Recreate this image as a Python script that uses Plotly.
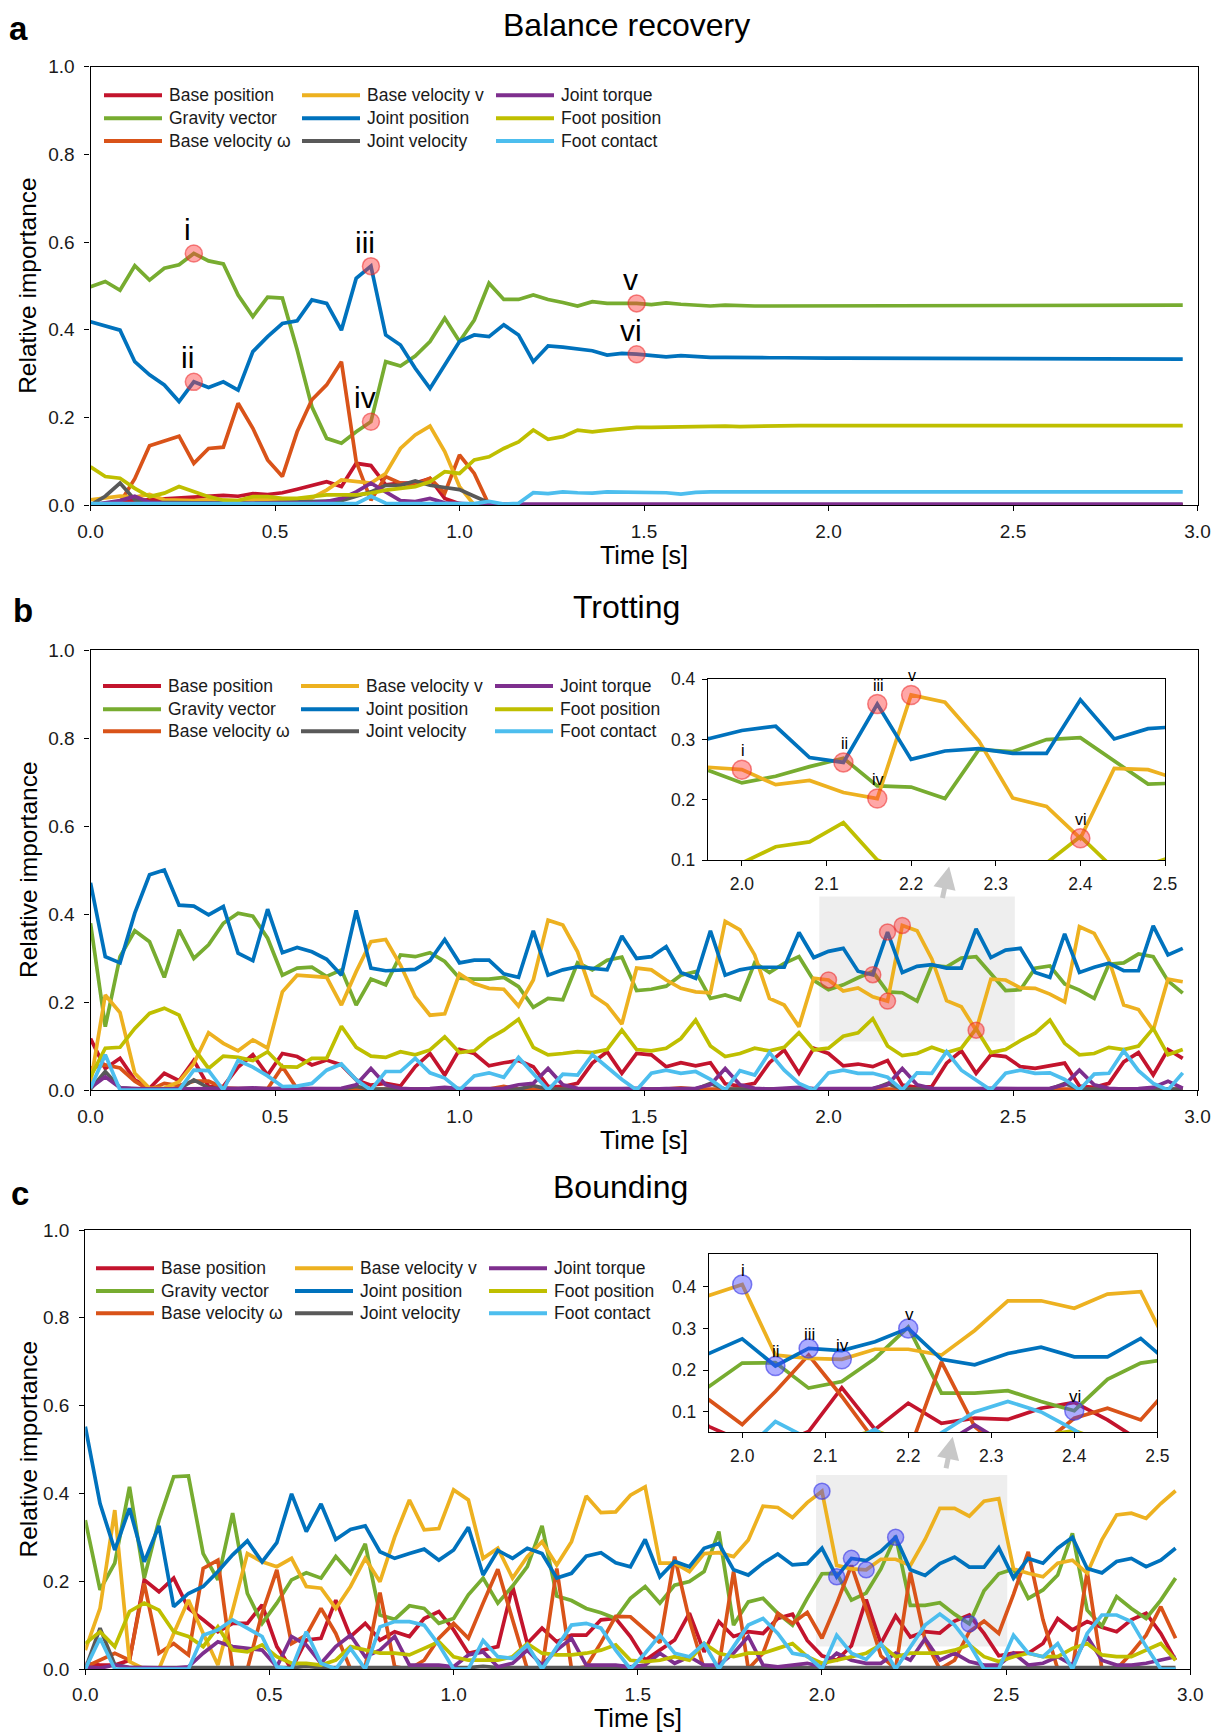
import numpy as np
import plotly.graph_objects as go

# The page body adds an 8 px margin, so the figure is drawn 8 px smaller and
# all pixel positions below are given in page coordinates minus that offset.
PAGE_W, PAGE_H = 1221, 1734
OFF = 8
W, H = PAGE_W - OFF, PAGE_H - OFF
FONT = "Liberation Sans, Arial, Helvetica, sans-serif"

# ---------------- time grid ----------------
N_STEPS = 75
DT = 0.04
t = np.round(np.arange(N_STEPS) * DT, 2)

SERIES = ["Base position", "Gravity vector", "Base velocity \u03c9",
          "Base velocity v", "Joint position", "Joint velocity",
          "Joint torque", "Foot position", "Foot contact"]
COLORS = ["#C3142D", "#77AC30", "#D95319", "#EDB120", "#0072BD",
          "#595959", "#7E2F8E", "#BFBF00", "#4DBEEE"]

# ---------------- panel a : Balance recovery ----------------
A_BPOS = [0.0, 0.005, 0.008, 0.01, 0.012, 0.015, 0.018, 0.02, 0.02, 0.022,
          0.02, 0.026, 0.024, 0.028, 0.036, 0.045, 0.053, 0.042, 0.095, 0.09,
          0.046, 0.05, 0.05, 0.06, 0.015, 0.003, 0.0, 0.0, 0.0, 0.0,
          0.0, 0.0, 0.0, 0.0, 0.0, 0.0, 0.0, 0.0, 0.0, 0.0,
          0.0, 0.0, 0.0, 0.0, 0.0, 0.0, 0.0, 0.0, 0.0, 0.0,
          0.0, 0.0, 0.0, 0.0, 0.0, 0.0, 0.0, 0.0, 0.0, 0.0,
          0.0, 0.0, 0.0, 0.0, 0.0, 0.0, 0.0, 0.0, 0.0, 0.0,
          0.0, 0.0, 0.0, 0.0, 0.0]
A_GRAV = [0.498, 0.51, 0.49, 0.546, 0.513, 0.54, 0.548, 0.574, 0.557, 0.55,
          0.479, 0.43, 0.474, 0.472, 0.354, 0.224, 0.152, 0.141, 0.167, 0.19,
          0.327, 0.317, 0.34, 0.373, 0.426, 0.373, 0.422, 0.506, 0.469, 0.469,
          0.479, 0.469, 0.462, 0.454, 0.464, 0.46, 0.46, 0.46, 0.457, 0.461,
          0.458, 0.455, 0.454, 0.456, 0.454, 0.454, 0.454, 0.454, 0.454, 0.454,
          0.454, 0.454, 0.454, 0.454, 0.454, 0.454, 0.454, 0.454, 0.454, 0.454,
          0.454, 0.454, 0.454, 0.456, 0.456, 0.456, 0.456, 0.456, 0.456, 0.456,
          0.456, 0.456, 0.456, 0.456, 0.456]
A_BVW = [0.0, 0.0, 0.005, 0.06, 0.135, 0.145, 0.157, 0.095, 0.129, 0.132,
         0.232, 0.175, 0.103, 0.065, 0.167, 0.24, 0.274, 0.327, 0.099, 0.011,
         0.065, 0.05, 0.046, 0.061, 0.027, 0.114, 0.072, 0.0, 0.0, 0.0,
         0.0, 0.0, 0.0, 0.0, 0.0, 0.0, 0.0, 0.0, 0.0, 0.0,
         0.0, 0.0, 0.0, 0.0, 0.0, 0.0, 0.0, 0.0, 0.0, 0.0,
         0.0, 0.0, 0.0, 0.0, 0.0, 0.0, 0.0, 0.0, 0.0, 0.0,
         0.0, 0.0, 0.0, 0.0, 0.0, 0.0, 0.0, 0.0, 0.0, 0.0,
         0.0, 0.0, 0.0, 0.0, 0.0]
A_BVV = [0.012, 0.015, 0.02, 0.018, 0.024, 0.012, 0.01, 0.01, 0.012, 0.01,
         0.01, 0.012, 0.012, 0.014, 0.014, 0.016, 0.034, 0.057, 0.053, 0.05,
         0.072, 0.129, 0.16, 0.18, 0.122, 0.042, 0.0, 0.0, 0.0, 0.0,
         0.0, 0.0, 0.0, 0.0, 0.0, 0.0, 0.0, 0.0, 0.0, 0.0,
         0.0, 0.0, 0.0, 0.0, 0.0, 0.0, 0.0, 0.0, 0.0, 0.0,
         0.0, 0.0, 0.0, 0.0, 0.0, 0.0, 0.0, 0.0, 0.0, 0.0,
         0.0, 0.0, 0.0, 0.0, 0.0, 0.0, 0.0, 0.0, 0.0, 0.0,
         0.0, 0.0, 0.0, 0.0, 0.0]
A_JPOS = [0.418, 0.408, 0.399, 0.327, 0.297, 0.274, 0.236, 0.281, 0.268, 0.281,
          0.262, 0.35, 0.384, 0.414, 0.42, 0.468, 0.46, 0.399, 0.517, 0.545,
          0.388, 0.365, 0.312, 0.266, 0.319, 0.373, 0.388, 0.384, 0.411, 0.388,
          0.327, 0.363, 0.36, 0.357, 0.352, 0.342, 0.346, 0.344, 0.342, 0.338,
          0.341, 0.338, 0.337, 0.337, 0.336, 0.336, 0.336, 0.336, 0.335, 0.335,
          0.335, 0.335, 0.335, 0.335, 0.335, 0.335, 0.335, 0.335, 0.335, 0.335,
          0.335, 0.335, 0.335, 0.333, 0.333, 0.333, 0.333, 0.333, 0.333, 0.333,
          0.333, 0.333, 0.333, 0.333, 0.333]
A_JVEL = [0.0, 0.02, 0.05, 0.012, 0.006, 0.005, 0.005, 0.005, 0.005, 0.004,
          0.004, 0.004, 0.005, 0.006, 0.006, 0.007, 0.008, 0.01, 0.02, 0.03,
          0.045, 0.045, 0.055, 0.045, 0.04, 0.035, 0.02, 0.005, 0.0, 0.0,
          0.0, 0.0, 0.0, 0.0, 0.0, 0.0, 0.0, 0.0, 0.0, 0.0,
          0.0, 0.0, 0.0, 0.0, 0.0, 0.0, 0.0, 0.0, 0.0, 0.0,
          0.0, 0.0, 0.0, 0.0, 0.0, 0.0, 0.0, 0.0, 0.0, 0.0,
          0.0, 0.0, 0.0, 0.0, 0.0, 0.0, 0.0, 0.0, 0.0, 0.0,
          0.0, 0.0, 0.0, 0.0, 0.0]
A_JTOR = [0.0, 0.004, 0.01, 0.02, 0.006, 0.004, 0.003, 0.003, 0.003, 0.003,
          0.003, 0.003, 0.003, 0.003, 0.004, 0.005, 0.008, 0.015, 0.03, 0.05,
          0.03, 0.01, 0.008, 0.015, 0.005, 0.003, 0.002, 0.002, 0.002, 0.002,
          0.002, 0.002, 0.002, 0.002, 0.002, 0.002, 0.002, 0.002, 0.002, 0.002,
          0.002, 0.002, 0.002, 0.002, 0.002, 0.002, 0.002, 0.002, 0.002, 0.002,
          0.002, 0.002, 0.002, 0.002, 0.002, 0.002, 0.002, 0.002, 0.002, 0.002,
          0.002, 0.002, 0.002, 0.002, 0.002, 0.002, 0.002, 0.002, 0.002, 0.002,
          0.002, 0.002, 0.002, 0.002, 0.002]
A_FPOS = [0.087, 0.065, 0.061, 0.038, 0.019, 0.027, 0.042, 0.03, 0.019, 0.011,
          0.01, 0.019, 0.019, 0.015, 0.015, 0.019, 0.023, 0.023, 0.023, 0.027,
          0.034, 0.038, 0.042, 0.053, 0.076, 0.072, 0.103, 0.11, 0.129, 0.144,
          0.171, 0.15, 0.156, 0.171, 0.167, 0.171, 0.175, 0.177, 0.177, 0.178,
          0.178, 0.179, 0.18, 0.18, 0.179, 0.18, 0.18, 0.18, 0.181, 0.181,
          0.181, 0.181, 0.181, 0.181, 0.181, 0.181, 0.181, 0.181, 0.181, 0.181,
          0.181, 0.181, 0.181, 0.181, 0.181, 0.181, 0.181, 0.181, 0.181, 0.181,
          0.181, 0.181, 0.181, 0.181, 0.181]
A_FCON = [0.003, 0.003, 0.003, 0.003, 0.003, 0.003, 0.003, 0.003, 0.003, 0.003,
          0.003, 0.003, 0.003, 0.003, 0.003, 0.003, 0.003, 0.003, 0.003, 0.02,
          0.004, 0.003, 0.003, 0.003, 0.003, 0.003, 0.003, 0.008, 0.002, 0.004,
          0.028, 0.026, 0.03, 0.028, 0.027, 0.03, 0.03, 0.03, 0.029, 0.028,
          0.025, 0.029, 0.03, 0.03, 0.03, 0.03, 0.03, 0.03, 0.03, 0.03,
          0.03, 0.03, 0.03, 0.03, 0.03, 0.03, 0.03, 0.03, 0.03, 0.03,
          0.03, 0.03, 0.03, 0.03, 0.03, 0.03, 0.03, 0.03, 0.03, 0.03,
          0.03, 0.03, 0.03, 0.03, 0.03]

# ---------------- panel b : Trotting ----------------
B_BPOS = [0.117, 0.049, 0.072, 0.023, 0.004, 0.038, 0.021, 0.067, 0.008, 0.008,
          0.052, 0.08, 0.034, 0.083, 0.076, 0.057, 0.068, 0.057, 0.023, 0.011,
          0.015, 0.009, 0.053, 0.083, 0.034, 0.092, 0.083, 0.055, 0.062, 0.067,
          0.053, 0.008, 0.008, 0.015, 0.061, 0.087, 0.038, 0.083, 0.08, 0.053,
          0.062, 0.055, 0.062, 0.014, 0.009, 0.015, 0.062, 0.091, 0.038, 0.095,
          0.083, 0.055, 0.059, 0.053, 0.067, 0.011, 0.006, 0.008, 0.061, 0.089,
          0.038, 0.08, 0.076, 0.053, 0.049, 0.055, 0.061, 0.009, 0.006, 0.015,
          0.064, 0.085, 0.034, 0.092, 0.072]
B_GRAV = [0.379, 0.144, 0.303, 0.362, 0.337, 0.256, 0.364, 0.299, 0.33, 0.379,
          0.402, 0.395, 0.345, 0.261, 0.277, 0.279, 0.258, 0.273, 0.193, 0.252,
          0.239, 0.307, 0.303, 0.312, 0.292, 0.254, 0.252, 0.252, 0.256, 0.235,
          0.188, 0.208, 0.205, 0.289, 0.273, 0.295, 0.302, 0.226, 0.229, 0.236,
          0.261, 0.269, 0.208, 0.216, 0.205, 0.289, 0.267, 0.288, 0.303, 0.249,
          0.228, 0.239, 0.255, 0.269, 0.223, 0.221, 0.202, 0.283, 0.28, 0.3,
          0.303, 0.265, 0.226, 0.228, 0.277, 0.282, 0.241, 0.227, 0.208, 0.286,
          0.289, 0.309, 0.303, 0.248, 0.22]
B_BVW = [0.05, 0.057, 0.05, 0.02, 0.0, 0.015, 0.01, 0.02, 0.02, 0.005,
         0.003, 0.003, 0.003, 0.053, 0.003, 0.002, 0.002, 0.002, 0.002, 0.002,
         0.002, 0.002, 0.002, 0.002, 0.002, 0.002, 0.002, 0.002, 0.008, 0.002,
         0.002, 0.002, 0.002, 0.002, 0.002, 0.002, 0.002, 0.002, 0.002, 0.002,
         0.005, 0.002, 0.002, 0.002, 0.002, 0.002, 0.002, 0.002, 0.002, 0.002,
         0.002, 0.002, 0.002, 0.002, 0.002, 0.002, 0.002, 0.002, 0.002, 0.002,
         0.002, 0.002, 0.002, 0.002, 0.002, 0.002, 0.002, 0.002, 0.002, 0.002,
         0.002, 0.002, 0.002, 0.002, 0.002]
B_BVV = [0.015, 0.216, 0.176, 0.038, 0.004, 0.004, 0.019, 0.06, 0.13, 0.106,
         0.089, 0.114, 0.095, 0.223, 0.261, 0.259, 0.256, 0.193, 0.269, 0.337,
         0.342, 0.284, 0.212, 0.17, 0.173, 0.264, 0.242, 0.231, 0.229, 0.191,
         0.25, 0.386, 0.375, 0.314, 0.216, 0.193, 0.15, 0.277, 0.273, 0.25,
         0.231, 0.223, 0.221, 0.383, 0.364, 0.307, 0.208, 0.193, 0.144, 0.254,
         0.25, 0.225, 0.232, 0.212, 0.202, 0.374, 0.362, 0.298, 0.203, 0.189,
         0.136, 0.252, 0.25, 0.232, 0.231, 0.218, 0.2, 0.371, 0.356, 0.295,
         0.193, 0.183, 0.136, 0.252, 0.246]
B_JPOS = [0.471, 0.303, 0.289, 0.402, 0.489, 0.5, 0.42, 0.418, 0.398, 0.417,
          0.311, 0.294, 0.411, 0.312, 0.324, 0.314, 0.297, 0.261, 0.408, 0.277,
          0.271, 0.273, 0.274, 0.294, 0.342, 0.289, 0.295, 0.295, 0.264, 0.256,
          0.362, 0.261, 0.273, 0.28, 0.277, 0.273, 0.35, 0.299, 0.303, 0.326,
          0.267, 0.254, 0.362, 0.261, 0.273, 0.279, 0.279, 0.279, 0.358, 0.301,
          0.315, 0.322, 0.27, 0.262, 0.359, 0.267, 0.281, 0.285, 0.277, 0.277,
          0.366, 0.301, 0.318, 0.322, 0.267, 0.256, 0.355, 0.267, 0.279, 0.288,
          0.271, 0.271, 0.373, 0.307, 0.322]
B_JVEL = [0.002, 0.042, 0.005, 0.002, 0.002, 0.002, 0.002, 0.023, 0.005, 0.002,
          0.002, 0.002, 0.002, 0.002, 0.002, 0.002, 0.002, 0.002, 0.008, 0.002,
          0.002, 0.002, 0.002, 0.002, 0.002, 0.002, 0.002, 0.002, 0.002, 0.002,
          0.01, 0.002, 0.002, 0.002, 0.002, 0.002, 0.002, 0.002, 0.002, 0.002,
          0.002, 0.002, 0.015, 0.002, 0.002, 0.002, 0.002, 0.002, 0.002, 0.002,
          0.002, 0.002, 0.002, 0.002, 0.015, 0.002, 0.002, 0.002, 0.002, 0.002,
          0.002, 0.002, 0.002, 0.002, 0.002, 0.002, 0.015, 0.002, 0.002, 0.002,
          0.002, 0.002, 0.002, 0.002, 0.002]
B_JTOR = [0.005, 0.03, 0.005, 0.003, 0.002, 0.002, 0.002, 0.004, 0.002, 0.003,
          0.004, 0.005, 0.003, 0.004, 0.003, 0.002, 0.003, 0.004, 0.012, 0.049,
          0.012, 0.004, 0.002, 0.003, 0.006, 0.003, 0.002, 0.003, 0.004, 0.012,
          0.015, 0.049, 0.012, 0.004, 0.003, 0.002, 0.003, 0.004, 0.002, 0.003,
          0.003, 0.004, 0.012, 0.049, 0.012, 0.004, 0.002, 0.003, 0.006, 0.003,
          0.002, 0.003, 0.003, 0.004, 0.012, 0.049, 0.012, 0.004, 0.003, 0.002,
          0.003, 0.004, 0.003, 0.002, 0.003, 0.004, 0.012, 0.045, 0.012, 0.004,
          0.002, 0.003, 0.006, 0.02, 0.004]
B_FPOS = [0.03, 0.095, 0.097, 0.14, 0.174, 0.186, 0.17, 0.095, 0.049, 0.077,
          0.074, 0.067, 0.087, 0.053, 0.052, 0.072, 0.072, 0.145, 0.097, 0.077,
          0.074, 0.087, 0.08, 0.091, 0.121, 0.085, 0.089, 0.117, 0.136, 0.161,
          0.097, 0.08, 0.083, 0.087, 0.085, 0.092, 0.136, 0.092, 0.089, 0.095,
          0.117, 0.159, 0.1, 0.076, 0.083, 0.095, 0.089, 0.097, 0.13, 0.091,
          0.095, 0.122, 0.13, 0.162, 0.1, 0.078, 0.083, 0.097, 0.085, 0.095,
          0.139, 0.085, 0.092, 0.112, 0.129, 0.159, 0.106, 0.08, 0.083, 0.097,
          0.092, 0.1, 0.14, 0.08, 0.092]
B_FCON = [0.004, 0.08, 0.0, 0.0, 0.0, 0.0, 0.0, 0.045, 0.044, 0.0,
          0.067, 0.052, 0.032, 0.008, 0.009, 0.015, 0.045, 0.059, 0.023, 0.0,
          0.042, 0.042, 0.072, 0.039, 0.027, 0.0, 0.032, 0.039, 0.029, 0.074,
          0.038, 0.0, 0.036, 0.034, 0.08, 0.053, 0.024, 0.0, 0.038, 0.045,
          0.038, 0.042, 0.024, 0.0, 0.044, 0.034, 0.085, 0.045, 0.015, 0.0,
          0.039, 0.045, 0.038, 0.038, 0.029, 0.0, 0.039, 0.038, 0.087, 0.045,
          0.023, 0.0, 0.038, 0.045, 0.038, 0.039, 0.024, 0.0, 0.036, 0.038,
          0.089, 0.044, 0.015, 0.0, 0.039]

# ---------------- panel c : Bounding ----------------
C_BPOS = [0.013, 0.009, 0.009, 0.02, 0.203, 0.176, 0.207, 0.138, 0.112, 0.085,
          0.104, 0.104, 0.146, 0.051, 0.0, 0.066, 0.07, 0.157, 0.074, 0.104,
          0.066, 0.085, 0.074, 0.115, 0.131, 0.089, 0.036, 0.043, 0.051, 0.188,
          0.058, 0.093, 0.062, 0.077, 0.077, 0.112, 0.115, 0.074, 0.02, 0.043,
          0.066, 0.127, 0.039, 0.108, 0.074, 0.085, 0.081, 0.115, 0.125, 0.065,
          0.03, 0.02, 0.053, 0.158, 0.058, 0.121, 0.073, 0.085, 0.082, 0.109,
          0.123, 0.081, 0.03, 0.036, 0.036, 0.058, 0.115, 0.089, 0.108, 0.095,
          0.085, 0.112, 0.127, 0.081, 0.02]
C_GRAV = [0.339, 0.18, 0.241, 0.415, 0.207, 0.339, 0.438, 0.44, 0.263, 0.203,
          0.355, 0.172, 0.104, 0.15, 0.203, 0.219, 0.207, 0.256, 0.218, 0.285,
          0.123, 0.113, 0.144, 0.138, 0.104, 0.115, 0.169, 0.207, 0.15, 0.189,
          0.233, 0.326, 0.166, 0.156, 0.138, 0.128, 0.115, 0.161, 0.188, 0.15,
          0.191, 0.199, 0.222, 0.313, 0.1, 0.153, 0.161, 0.127, 0.1, 0.161,
          0.217, 0.218, 0.157, 0.173, 0.228, 0.303, 0.145, 0.145, 0.151, 0.125,
          0.103, 0.178, 0.217, 0.228, 0.161, 0.18, 0.214, 0.309, 0.134, 0.098,
          0.165, 0.138, 0.115, 0.157, 0.207]
C_BVW = [0.005, 0.02, 0.036, 0.02, 0.195, 0.036, 0.058, 0.032, 0.229, 0.248,
         0.0, 0.0, 0.127, 0.226, 0.058, 0.077, 0.138, 0.081, 0.0, 0.005,
         0.174, 0.005, 0.0, 0.02, 0.07, 0.104, 0.07, 0.15, 0.227, 0.112,
         0.0, 0.0, 0.229, 0.0, 0.005, 0.06, 0.12, 0.119, 0.09, 0.06,
         0.256, 0.112, 0.0, 0.005, 0.222, 0.0, 0.036, 0.127, 0.104, 0.129,
         0.07, 0.149, 0.236, 0.137, 0.03, 0.0, 0.22, 0.065, 0.0, 0.02,
         0.085, 0.109, 0.081, 0.17, 0.267, 0.112, 0.0, 0.0, 0.222, 0.0,
         0.0, 0.036, 0.077, 0.142, 0.07]
C_BVV = [0.043, 0.138, 0.362, 0.017, 0.0, 0.0, 0.081, 0.157, 0.081, 0.009,
         0.134, 0.263, 0.244, 0.233, 0.252, 0.188, 0.184, 0.138, 0.188, 0.252,
         0.199, 0.301, 0.385, 0.317, 0.32, 0.408, 0.385, 0.252, 0.275, 0.207,
         0.256, 0.29, 0.237, 0.29, 0.394, 0.356, 0.358, 0.396, 0.415, 0.241,
         0.241, 0.222, 0.263, 0.265, 0.256, 0.294, 0.371, 0.368, 0.345, 0.379,
         0.405, 0.236, 0.228, 0.226, 0.25, 0.25, 0.236, 0.295, 0.366, 0.366,
         0.348, 0.382, 0.388, 0.228, 0.218, 0.21, 0.241, 0.248, 0.218, 0.294,
         0.351, 0.355, 0.343, 0.377, 0.406]
C_JPOS = [0.552, 0.377, 0.271, 0.366, 0.244, 0.326, 0.142, 0.172, 0.188, 0.222,
          0.26, 0.292, 0.244, 0.288, 0.399, 0.313, 0.376, 0.295, 0.318, 0.326,
          0.267, 0.252, 0.263, 0.273, 0.248, 0.271, 0.323, 0.214, 0.27, 0.252,
          0.275, 0.263, 0.207, 0.218, 0.257, 0.265, 0.242, 0.233, 0.295, 0.21,
          0.245, 0.233, 0.275, 0.286, 0.226, 0.214, 0.241, 0.262, 0.237, 0.24,
          0.275, 0.21, 0.252, 0.247, 0.268, 0.3, 0.226, 0.213, 0.24, 0.255,
          0.232, 0.232, 0.276, 0.207, 0.252, 0.241, 0.275, 0.3, 0.229, 0.219,
          0.245, 0.252, 0.233, 0.248, 0.275]
C_JVEL = [0.0, 0.093, 0.01, 0.003, 0.003, 0.002, 0.003, 0.003, 0.003, 0.003,
          0.003, 0.003, 0.003, 0.003, 0.003, 0.006, 0.003, 0.003, 0.003, 0.003,
          0.003, 0.003, 0.003, 0.003, 0.003, 0.003, 0.003, 0.006, 0.003, 0.003,
          0.003, 0.003, 0.003, 0.003, 0.003, 0.003, 0.003, 0.003, 0.003, 0.003,
          0.003, 0.003, 0.003, 0.003, 0.003, 0.003, 0.003, 0.003, 0.003, 0.003,
          0.003, 0.003, 0.003, 0.003, 0.003, 0.003, 0.003, 0.003, 0.003, 0.003,
          0.003, 0.003, 0.003, 0.003, 0.003, 0.003, 0.003, 0.003, 0.003, 0.003,
          0.003, 0.003, 0.003, 0.003, 0.003]
C_JTOR = [0.005, 0.002, 0.009, 0.003, 0.003, 0.002, 0.002, 0.005, 0.036, 0.062,
          0.051, 0.047, 0.043, 0.005, 0.074, 0.055, 0.013, 0.051, 0.077, 0.028,
          0.043, 0.074, 0.009, 0.009, 0.009, 0.005, 0.032, 0.039, 0.005, 0.013,
          0.043, 0.009, 0.043, 0.07, 0.009, 0.009, 0.009, 0.005, 0.009, 0.036,
          0.013, 0.028, 0.009, 0.009, 0.036, 0.074, 0.009, 0.005, 0.009, 0.013,
          0.005, 0.036, 0.02, 0.013, 0.013, 0.036, 0.02, 0.069, 0.02, 0.036,
          0.017, 0.009, 0.009, 0.036, 0.009, 0.013, 0.028, 0.009, 0.074, 0.02,
          0.009, 0.009, 0.013, 0.02, 0.028]
C_FPOS = [0.058, 0.085, 0.051, 0.131, 0.15, 0.134, 0.085, 0.074, 0.051, 0.096,
          0.043, 0.039, 0.055, 0.028, 0.013, 0.013, 0.009, 0.02, 0.051, 0.043,
          0.036, 0.036, 0.032, 0.047, 0.062, 0.028, 0.02, 0.02, 0.02, 0.028,
          0.058, 0.036, 0.032, 0.032, 0.036, 0.043, 0.055, 0.02, 0.017, 0.02,
          0.028, 0.02, 0.058, 0.036, 0.028, 0.036, 0.036, 0.047, 0.058, 0.028,
          0.013, 0.02, 0.028, 0.036, 0.055, 0.028, 0.036, 0.036, 0.036, 0.043,
          0.055, 0.028, 0.017, 0.028, 0.036, 0.028, 0.028, 0.047, 0.058, 0.032,
          0.028, 0.028, 0.043, 0.058, 0.02]
C_FCON = [0.0, 0.07, 0.0, 0.0, 0.0, 0.0, 0.0, 0.0, 0.077, 0.089,
          0.112, 0.093, 0.074, 0.005, 0.0, 0.085, 0.013, 0.0, 0.047, 0.0,
          0.096, 0.108, 0.108, 0.1, 0.055, 0.0, 0.0, 0.065, 0.028, 0.024,
          0.055, 0.0, 0.051, 0.1, 0.104, 0.093, 0.043, 0.0, 0.036, 0.077,
          0.036, 0.028, 0.058, 0.0, 0.051, 0.1, 0.115, 0.081, 0.036, 0.03,
          0.0, 0.077, 0.036, 0.022, 0.058, 0.0, 0.05, 0.1, 0.125, 0.1,
          0.057, 0.0, 0.0, 0.077, 0.036, 0.028, 0.058, 0.0, 0.081, 0.123,
          0.123, 0.108, 0.051, 0.0, 0.0]

PANEL_A = [A_BPOS, A_GRAV, A_BVW, A_BVV, A_JPOS, A_JVEL, A_JTOR, A_FPOS, A_FCON]
PANEL_B = [B_BPOS, B_GRAV, B_BVW, B_BVV, B_JPOS, B_JVEL, B_JTOR, B_FPOS, B_FCON]
PANEL_C = [C_BPOS, C_GRAV, C_BVW, C_BVV, C_JPOS, C_JVEL, C_JTOR, C_FPOS, C_FCON]
for grp in (PANEL_A, PANEL_B, PANEL_C):
    for arr in grp:
        if len(arr) != N_STEPS:
            raise ValueError("bad length %d" % len(arr))

# highlighted instants: (label, series, sample index)
MARKS_A = [("i", "Gravity vector", 7), ("ii", "Joint position", 7),
           ("iii", "Joint position", 19), ("iv", "Gravity vector", 19),
           ("v", "Gravity vector", 37), ("vi", "Joint position", 37)]
MARKS_B = [("i", "Base velocity v", 50), ("ii", "Joint position", 53),
           ("iii", "Joint position", 54), ("iv", "Base velocity v", 54),
           ("v", "Base velocity v", 55), ("vi", "Base velocity v", 60)]
MARKS_C = [("i", "Base velocity v", 50), ("ii", "Joint position", 51),
           ("iii", "Joint position", 52), ("iv", "Base velocity v", 53),
           ("v", "Joint position", 55), ("vi", "Gravity vector", 60)]

TITLES = ["Balance recovery", "Trotting", "Bounding"]
LETTERS = ["a", "b", "c"]

# ---------------- layout geometry (page pixels) ----------------
A_X, A_Y = (90.5, 1197.5), (66.7, 505.0)
B_X, B_Y = (90.5, 1197.5), (650.0, 1090.0)
C_X, C_Y = (85.3, 1190.3), (1230.0, 1669.0)
BI_X, BI_Y = (708.0, 1165.0), (679.3, 860.0)
CI_X, CI_Y = (709.0, 1157.3), (1254.0, 1432.0)


def px(x):
    return (x - OFF) / W


def py(y):
    return 1 - (y - OFF) / H


def dom_x(r):
    return [px(r[0]), px(r[1])]


def dom_y(r):
    return [py(r[1]), py(r[0])]


fig = go.Figure()

LW = 3.7


def add_lines(data, xa, ya):
    for name, color, vals in zip(SERIES, COLORS, data):
        fig.add_trace(go.Scatter(x=t, y=vals, mode="lines", name=name,
                                 line=dict(color=color, width=LW),
                                 xaxis=xa, yaxis=ya, showlegend=False,
                                 hoverinfo="skip"))


def mark_points(data, marks):
    xs, ys, labs = [], [], []
    for lab, ser, idx in marks:
        xs.append(t[idx])
        ys.append(data[SERIES.index(ser)][idx])
        labs.append(lab)
    return xs, ys, labs


RED_FILL = "rgba(255,60,60,0.45)"
RED_EDGE = "rgba(235,40,40,0.55)"
BLUE_FILL = "rgba(70,70,255,0.45)"
BLUE_EDGE = "rgba(50,50,230,0.6)"


def add_marks(data, marks, xa, ya, fill, edge, size):
    xs, ys, _ = mark_points(data, marks)
    fig.add_trace(go.Scatter(x=xs, y=ys, mode="markers", xaxis=xa, yaxis=ya,
                             marker=dict(size=size, color=fill,
                                         line=dict(color=edge, width=1.5)),
                             showlegend=False, hoverinfo="skip",
                             cliponaxis=False))


# panel a
add_lines(PANEL_A, "x", "y")
add_marks(PANEL_A, MARKS_A, "x", "y", RED_FILL, RED_EDGE, 17)
# panel b
add_lines(PANEL_B, "x2", "y2")
add_marks(PANEL_B, MARKS_B, "x2", "y2", RED_FILL, RED_EDGE, 16)
add_lines(PANEL_B, "x3", "y3")
add_marks(PANEL_B, MARKS_B, "x3", "y3", RED_FILL, RED_EDGE, 19)
# panel c
add_lines(PANEL_C, "x4", "y4")
add_marks(PANEL_C, MARKS_C, "x4", "y4", BLUE_FILL, BLUE_EDGE, 16)
add_lines(PANEL_C, "x5", "y5")
add_marks(PANEL_C, MARKS_C, "x5", "y5", BLUE_FILL, BLUE_EDGE, 19)

common = dict(showline=True, linecolor="black", linewidth=1.3, mirror=True,
              ticks="outside", ticklen=5, tickwidth=1.3, tickcolor="black",
              showgrid=False, zeroline=False, tickformat=".1f",
              automargin=False)
main_tick = dict(family=FONT, size=19, color="#1a1a1a")
inset_tick = dict(family=FONT, size=17.5, color="#1a1a1a")

fig.update_layout(
    template="none",
    width=W, height=H,
    margin=dict(l=0, r=0, t=0, b=0, pad=0, autoexpand=False),
    paper_bgcolor="white", plot_bgcolor="white", showlegend=False,
    font=dict(family=FONT, color="black"),
    xaxis=dict(domain=dom_x(A_X), range=[0, 3], dtick=0.5, anchor="y",
               tickfont=main_tick, ticklabelstandoff=4, **common),
    yaxis=dict(domain=dom_y(A_Y), range=[0, 1], dtick=0.2, anchor="x",
               tickfont=main_tick, ticklabelstandoff=6, **common),
    xaxis2=dict(domain=dom_x(B_X), range=[0, 3], dtick=0.5, anchor="y2",
                tickfont=main_tick, ticklabelstandoff=4, **common),
    yaxis2=dict(domain=dom_y(B_Y), range=[0, 1], dtick=0.2, anchor="x2",
                tickfont=main_tick, ticklabelstandoff=6, **common),
    xaxis3=dict(domain=dom_x(BI_X), range=[1.96, 2.5], dtick=0.1, tick0=2.0,
                anchor="y3", tickfont=inset_tick, ticklabelstandoff=3, **common),
    yaxis3=dict(domain=dom_y(BI_Y), range=[0.1, 0.4], dtick=0.1, tick0=0.1,
                anchor="x3", tickfont=inset_tick, ticklabelstandoff=3, **common),
    xaxis4=dict(domain=dom_x(C_X), range=[0, 3], dtick=0.5, anchor="y4",
                tickfont=main_tick, ticklabelstandoff=3, **common),
    yaxis4=dict(domain=dom_y(C_Y), range=[0, 1], dtick=0.2, anchor="x4",
                tickfont=main_tick, ticklabelstandoff=6, **common),
    xaxis5=dict(domain=dom_x(CI_X), range=[1.96, 2.5], dtick=0.1, tick0=2.0,
                anchor="y5", tickfont=inset_tick, ticklabelstandoff=3, **common),
    yaxis5=dict(domain=dom_y(CI_Y), range=[0.052, 0.478], dtick=0.1, tick0=0.1,
                anchor="x5", tickfont=inset_tick, ticklabelstandoff=3, **common),
)

annotations = []
shapes = []

# titles, panel letters, axis titles
title_pos = [(626, 25), (626, 607), (620, 1187)]
letter_pos = [(18, 28), (23, 610), (20, 1193)]
xtitle_y = [555, 1140, 1718]
panels_x = [A_X, B_X, C_X]
panels_y = [A_Y, B_Y, C_Y]
for i in range(3):
    annotations.append(dict(text=TITLES[i], x=px(title_pos[i][0]), y=py(title_pos[i][1]),
                            xref="paper", yref="paper", showarrow=False,
                            xanchor="center", yanchor="middle",
                            font=dict(family=FONT, size=32, color="black")))
    annotations.append(dict(text="<b>%s</b>" % LETTERS[i], x=px(letter_pos[i][0]),
                            y=py(letter_pos[i][1]), xref="paper", yref="paper",
                            showarrow=False, xanchor="center", yanchor="middle",
                            font=dict(family=FONT, size=33, color="black")))
    cx = (panels_x[i][0] + panels_x[i][1]) / 2
    annotations.append(dict(text="Time [s]", x=px(cx), y=py(xtitle_y[i]),
                            xref="paper", yref="paper", showarrow=False,
                            xanchor="center", yanchor="middle",
                            font=dict(family=FONT, size=25, color="black")))
    cy = (panels_y[i][0] + panels_y[i][1]) / 2
    annotations.append(dict(text="Relative importance", x=px(28), y=py(cy),
                            xref="paper", yref="paper", showarrow=False,
                            textangle=-90, xanchor="center", yanchor="middle",
                            font=dict(family=FONT, size=24.5, color="black")))

# legends (3 x 3, column-major)
LEG_COLS = [[104, 302, 496], [103, 301, 495], [96, 295, 489]]
LEG_ROWS = [[95.3, 118.3, 141.0], [686.0, 709.3, 731.3], [1268.3, 1291.0, 1313.3]]
for p in range(3):
    for k, (name, color) in enumerate(zip(SERIES, COLORS)):
        col, row = k // 3, k % 3
        x0 = LEG_COLS[p][col]
        yy = LEG_ROWS[p][row]
        shapes.append(dict(type="line", xref="paper", yref="paper",
                           x0=px(x0), x1=px(x0 + 58), y0=py(yy), y1=py(yy),
                           line=dict(color=color, width=4)))
        annotations.append(dict(text=name, x=px(x0 + 63), y=py(yy),
                                xref="paper", yref="paper", showarrow=False,
                                xanchor="left", yanchor="middle",
                                font=dict(family=FONT, size=17.5, color="#1a1a1a")))


# marker labels
def add_mark_labels(data, marks, xa, ya, size, yshift, xshift):
    xs, ys, labs = mark_points(data, marks)
    for x, y, lab in zip(xs, ys, labs):
        annotations.append(dict(text=lab, x=x, y=y, xref=xa, yref=ya,
                                showarrow=False, xanchor="center",
                                yanchor="middle", yshift=yshift, xshift=xshift,
                                font=dict(family=FONT, size=size, color="black")))


add_mark_labels(PANEL_A, MARKS_A, "x", "y", 30, 24, -6)
add_mark_labels(PANEL_B, MARKS_B, "x3", "y3", 16, 19, 1)
add_mark_labels(PANEL_C, MARKS_C, "x5", "y5", 17, 14, 1)

# zoom-window shading
ZOOM_B = (1.975, 2.505, 0.11, 0.44)
ZOOM_C = (1.984, 2.503, 0.051, 0.442)
for (x0, x1, y0, y1), xa, ya in ((ZOOM_B, "x2", "y2"), (ZOOM_C, "x4", "y4")):
    shapes.append(dict(type="rect", xref=xa, yref=ya, x0=x0, x1=x1, y0=y0, y1=y1,
                       fillcolor="rgba(205,205,205,0.35)", line=dict(width=0),
                       layer="below"))

# arrows from zoom window to inset
ARROW_B = (2.327, 0.508)
ARROW_C = (2.355, 0.529)
for (ax_, ay_), xa, ya in ((ARROW_B, "x2", "y2"), (ARROW_C, "x4", "y4")):
    annotations.append(dict(text="", x=ax_, y=ay_, xref=xa, yref=ya,
                            ax=-7, ay=33, showarrow=True, arrowhead=2,
                            arrowsize=0.9, arrowwidth=5, arrowcolor="#C8C8C8"))

fig.update_layout(annotations=annotations, shapes=shapes)
fig.write_html("out.html")
